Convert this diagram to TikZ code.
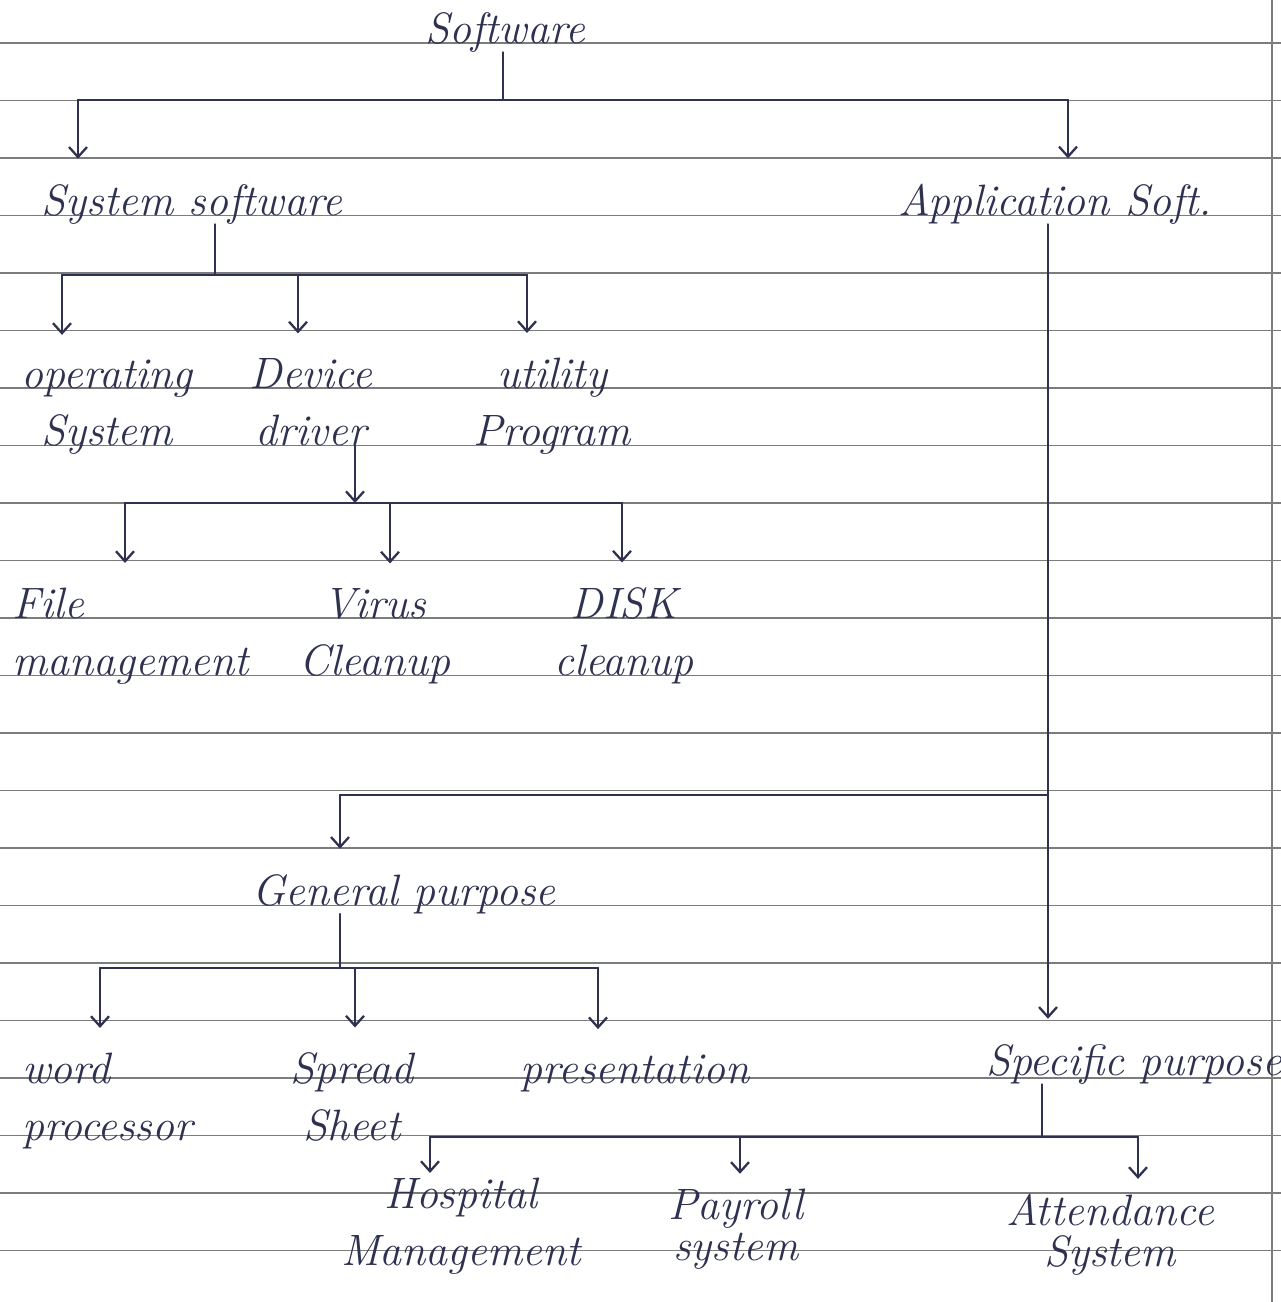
\documentclass[tikz,border=0pt]{standalone}
\usepackage{tikz}
\usetikzlibrary{arrows.meta, calc}
\definecolor{ink}{HTML}{2E3150}
\definecolor{ruling}{HTML}{7C7C7C}
\newcommand{\handfont}{\fontsize{25}{32}\selectfont\itshape}
\newcommand{\tighthand}{\fontsize{25}{23}\selectfont\itshape}
\tikzset{
    tbox/.style={inner sep=0pt, text=ink, font=\handfont,
                 align=center, anchor=base},
    lbox/.style={tbox, align=left, anchor=base west},
    nbox/.style={tbox, font=\tighthand},
    link/.style={draw=ink, line width=1.3pt, line cap=round},
    arr/.style={link, -{Straight Barb[length=2mm,width=3.6mm]}},
    arrin/.style={arr, shorten >=5mm},
    ruled/.style={draw=ruling, line width=0.8pt}
}

\begin{document}
\begin{tikzpicture}[x=0.02cm, y=-0.02cm]
\useasboundingbox (0,0) rectangle (1281,1302);
\fill[white] (0,0) rectangle (1281,1302);

% ── Notebook ruling ───────────────────────────────────────────────────
\foreach \k in {0,...,21}
    \draw[ruled] (0,43+57.5*\k) -- (1281,43+57.5*\k);
\draw[ruled] (1272,0) -- (1272,1302);

% ── Labels (two-line ones sit on the baseline of their last line) ─────
\node[tbox] at (505,43)   (sw)   {Software};
\node[tbox] at (192,215)  (sys)  {System software};
\node[tbox] at (1055,215) (app)  {Application Soft.};

\node[tbox] at (107,445)  (os)   {operating\\System};
\node[tbox] at (311,445)  (dev)  {Device\\driver};
\node[tbox] at (552,445)  (util) {utility\\Program};

\node[lbox] at (12,675)   (file)  {File\\management};
\node[tbox] at (375,675)  (virus) {Virus\\Cleanup};
\node[tbox] at (624,675)  (disk)  {DISK\\cleanup};

\node[tbox] at (404,905)  (gen)  {General purpose};
\node[tbox] at (1134,1075)(spec) {Specific purpose};

\node[lbox] at (22,1140)  (word)   {word\\processor};
\node[tbox] at (352,1140) (spread) {Spread\\Sheet};
\node[tbox] at (635,1083) (pres)   {presentation};

\node[tbox] at (461,1265) (hosp) {Hospital\\Management};
\node[nbox] at (736,1260) (pay)  {Payroll\\system};
\node[nbox] at (1110,1266)(att)  {Attendance\\System};

% ── Software → two kinds ──────────────────────────────────────────────
\coordinate (t1)  at (503,100);
\coordinate (t1l) at (78,100);
\coordinate (t1r) at (1068,100);
\draw[link]  (sw.south -| t1) -- (t1);
\draw[link]  (t1l) -- (t1r);
\draw[arrin] (t1l) -- (t1l |- sys.north);
\draw[arrin] (t1r) -- (t1r |- app.north);

% ── System software ───────────────────────────────────────────────────
\coordinate (t2)  at (215,275);
\coordinate (t2a) at (62,275);
\coordinate (t2b) at (298,275);
\coordinate (t2c) at (527,275);
\draw[link]  (sys.south -| t2) -- (t2);
\draw[link]  (t2a) -- (t2c);
\draw[arrin] (t2a) -- (t2a |- os.north);
\draw[arrin] (t2b) -- (t2b |- dev.north);
\draw[arrin] (t2c) -- (t2c |- util.north);

% ── Device driver → cleanups ──────────────────────────────────────────
\coordinate (t3)  at (355,503);
\coordinate (t3a) at (125,503);
\coordinate (t3b) at (390,503);
\coordinate (t3c) at (622,503);
\draw[arr]   (dev.south -| t3) -- (t3);
\draw[link]  (t3a) -- (t3c);
\draw[arrin] (t3a) -- (t3a |- file.north);
\draw[arrin] (t3b) -- (t3b |- virus.north);
\draw[arrin] (t3c) -- (t3c |- disk.north);

% ── Application software ──────────────────────────────────────────────
\coordinate (t4)  at (1048,795);
\coordinate (t4a) at (340,795);
\draw[arrin] (app.south -| t4) -- (t4 |- spec.north);
\draw[link]  (t4) -- (t4a);
\draw[arrin] (t4a) -- (t4a |- gen.north);

% ── General purpose ───────────────────────────────────────────────────
\coordinate (t5)  at (340,968);
\coordinate (t5a) at (100,968);
\coordinate (t5b) at (355,968);
\coordinate (t5c) at (598,968);
\draw[link]  (gen.south -| t5) -- (t5);
\draw[link]  (t5a) -- (t5c);
\draw[arrin] (t5a) -- (t5a |- word.north);
\draw[arrin] (t5b) -- (t5b |- spread.north);
\draw[arrin] (t5c) -- (t5c |- pres.north);

% ── Specific purpose ──────────────────────────────────────────────────
\coordinate (t6)  at (1042,1137);
\coordinate (t6a) at (430,1137);
\coordinate (t6b) at (740,1137);
\coordinate (t6c) at (1138,1137);
\draw[link] (spec.south -| t6) -- (t6);
\draw[link] (t6a) -- (t6c);
\draw[arr, shorten >=1mm] (t6a) -- (t6a |- hosp.north);
\draw[arr, shorten >=3mm] (t6b) -- (t6b |- pay.north);
\draw[arr, shorten >=3mm] (t6c) -- (t6c |- att.north);
\end{tikzpicture}
\end{document}
